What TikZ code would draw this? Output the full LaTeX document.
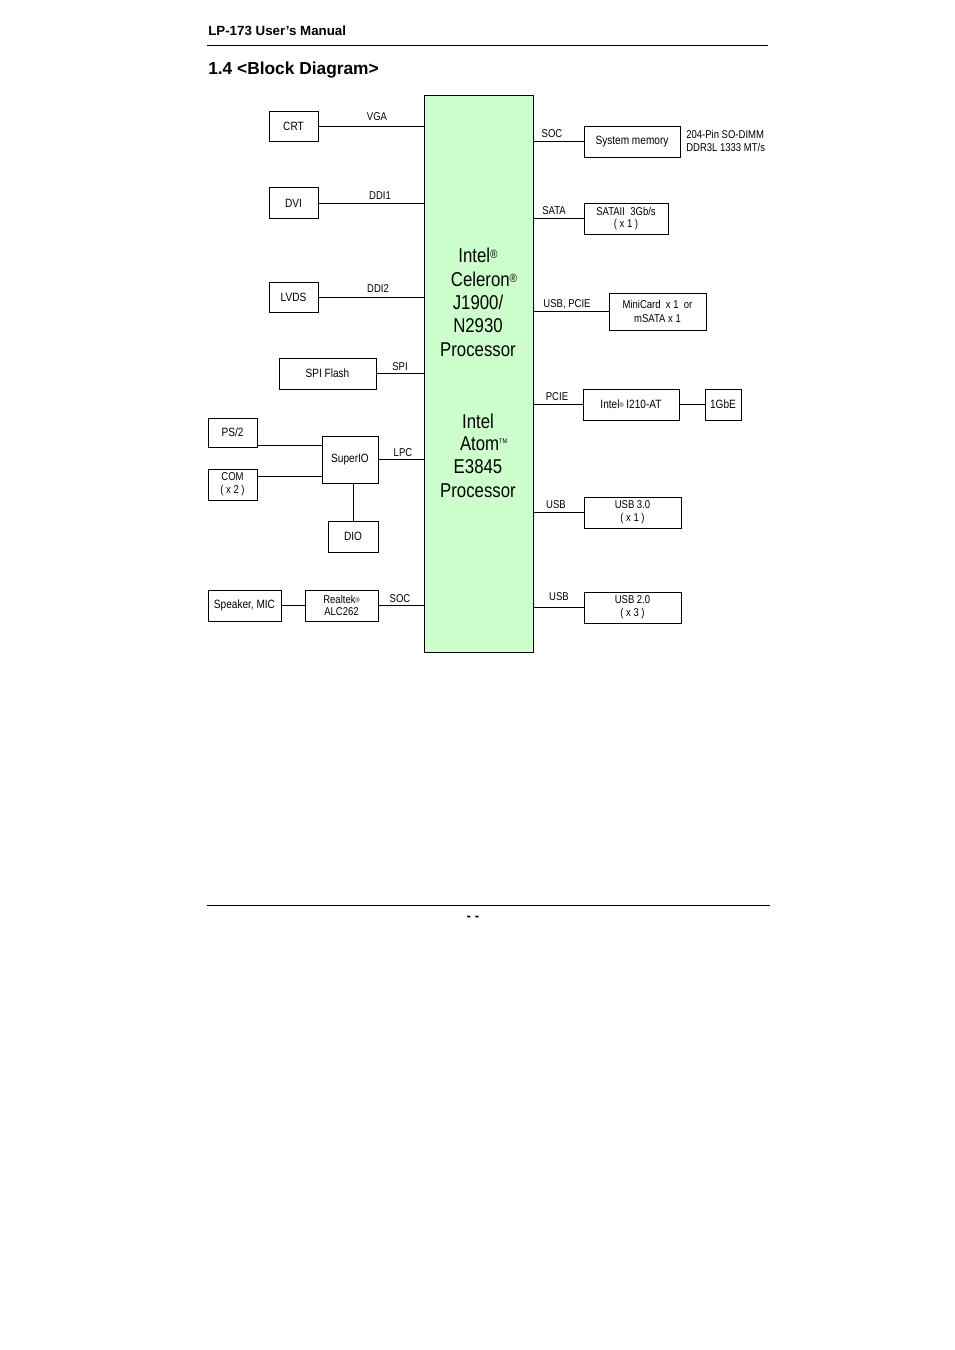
\documentclass[tikz,border=0pt]{standalone}
\usepackage{fontspec}
\setmainfont{Liberation Sans}
\newfontfamily\narrowf{Liberation Sans}[FakeStretch=0.84]
\begin{document}
\begin{tikzpicture}[x=0.75pt,y=-0.75pt,
  bx/.style={draw,line width=0.6pt,inner sep=0pt,align=center,font=\narrowf\fontsize{9}{10.5}\selectfont},
  lb/.style={font=\narrowf\fontsize{8.5}{10}\selectfont,inner sep=0pt},
  ln/.style={line width=0.5pt},
  cpu/.style={font=\narrowf\fontsize{15}{17}\selectfont,inner sep=0pt}]
\useasboundingbox[fill=white] (0,0) rectangle (954,1350);
\node[anchor=west,inner sep=0pt,font=\bfseries\fontsize{10}{12}\selectfont] (hdr) at (208,31) {LP-173 User’s Manual};
\draw[line width=0.6pt] (207,45) -- (768,45);
\node[anchor=west,inner sep=0pt,font=\bfseries\fontsize{13}{15}\selectfont] (ttl) at (208,70) {1.4 <Block Diagram>};
\draw[line width=0.6pt] (207,905) -- (770,905);
\node[font=\bfseries\fontsize{10}{12}\selectfont] (pg) at (473,918) {- -};
% CPU
\draw[fill={rgb,255:red,204;green,255;blue,204},line width=0.7pt] (424,95) rectangle (533,652);
\coordinate (cpuL) at (424,0); \coordinate (cpuR) at (533,0);
\node[cpu] at (478,255) {Intel\raisebox{0.3ex}{\small®}};
\node[cpu] at (484,279) {Celeron\raisebox{0.3ex}{\small®}};
\node[cpu] at (478,302) {J1900/};
\node[cpu] at (478,326) {N2930};
\node[cpu] at (478,350) {Processor};
\node[cpu] at (478,421) {Intel};
\node[cpu] at (484,444) {Atom\textsuperscript{\tiny TM}};
\node[cpu] at (478,467) {E3845};
\node[cpu] at (478,491) {Processor};
% left boxes
\node[bx,minimum width=49*0.75pt,minimum height=30*0.75pt] (crt) at (293.5,126) {CRT};
\node[bx,minimum width=49*0.75pt,minimum height=31*0.75pt] (dvi) at (293.5,203) {DVI};
\node[bx,minimum width=49*0.75pt,minimum height=30*0.75pt] (lvds) at (293.5,297) {LVDS};
\node[bx,minimum width=97*0.75pt,minimum height=31*0.75pt] (spi) at (327.5,373.5) {SPI Flash};
\node[bx,minimum width=49*0.75pt,minimum height=29*0.75pt] (ps2) at (232.5,432.5) {PS/2};
\node[bx,minimum width=49*0.75pt,minimum height=31*0.75pt,font=\narrowf\fontsize{8.5}{9.5}\selectfont] (com) at (232.5,484.5) {COM\\( x 2 )};
\node[bx,minimum width=56*0.75pt,minimum height=47*0.75pt] (sio) at (350,459.5) {SuperIO};
\node[bx,minimum width=50*0.75pt,minimum height=31*0.75pt] (dio) at (353,536.5) {DIO};
\node[bx,minimum width=73*0.75pt,minimum height=31*0.75pt] (spk) at (244.5,605.5) {Speaker, MIC};
\node[bx,minimum width=73*0.75pt,minimum height=31*0.75pt,font=\narrowf\fontsize{8.5}{9.5}\selectfont] (rtk) at (341.5,605.5) {Realtek\raisebox{0.2ex}{\tiny®}\\ALC262};
\draw[ln] (crt.east) -- (crt.east -| cpuL);
\draw[ln] (dvi.east) -- (dvi.east -| cpuL);
\draw[ln] (lvds.east) -- (lvds.east -| cpuL);
\draw[ln] (spi.east) -- (spi.east -| cpuL);
\draw[ln] (ps2.east |- 0,445) -- (sio.west |- 0,445);
\draw[ln] (com.east |- 0,476) -- (sio.west |- 0,476);
\draw[ln] (sio.east) -- (sio.east -| cpuL);
\draw[ln] (sio.south -| dio.north) -- (dio.north);
\draw[ln] (spk.east) -- (rtk.west);
\draw[ln] (rtk.east) -- (rtk.east -| cpuL);
\node[lb] at (377,117) {VGA};
\node[lb] at (380,196) {DDI1};
\node[lb] at (378,289) {DDI2};
\node[lb] at (400,367) {SPI};
\node[lb] at (403,453) {LPC};
\node[lb] at (400,599) {SOC};
% right
\node[bx,minimum width=96*0.75pt,minimum height=31*0.75pt] (mem) at (632,141.5) {System memory};
\node[anchor=west,lb,align=left] (memt) at (686,141) {204-Pin SO-DIMM\\DDR3L 1333 MT/s};
\node[bx,minimum width=84*0.75pt,minimum height=31*0.75pt,font=\narrowf\fontsize{8.5}{9.5}\selectfont] (sata) at (626,218.5) {SATAII\ \ 3Gb/s\\( x 1 )};
\node[bx,minimum width=97*0.75pt,minimum height=37*0.75pt,font=\narrowf\fontsize{8.5}{10}\selectfont] (mini) at (657.5,311.5) {MiniCard\ \ x 1\ \ or\\mSATA x 1};
\node[bx,minimum width=96*0.75pt,minimum height=31*0.75pt] (lan) at (631,404.5) {Intel\raisebox{0.2ex}{\tiny®} I210-AT};
\node[bx,minimum width=36*0.75pt,minimum height=31*0.75pt] (gbe) at (723,404.5) {1GbE};
\node[bx,minimum width=97*0.75pt,minimum height=31*0.75pt,font=\narrowf\fontsize{8.5}{9.5}\selectfont] (u3) at (632.5,512.5) {USB 3.0\\( x 1 )};
\node[bx,minimum width=97*0.75pt,minimum height=31*0.75pt,font=\narrowf\fontsize{8.5}{9.5}\selectfont] (u2) at (632.5,607.5) {USB 2.0\\( x 3 )};
\draw[ln] (mem.west) -- (mem.west -| cpuR);
\draw[ln] (sata.west) -- (sata.west -| cpuR);
\draw[ln] (mini.west) -- (mini.west -| cpuR);
\draw[ln] (lan.west) -- (lan.west -| cpuR);
\draw[ln] (lan.east) -- (gbe.west);
\draw[ln] (u3.west) -- (u3.west -| cpuR);
\draw[ln] (u2.west) -- (u2.west -| cpuR);
\node[lb] at (552,134) {SOC};
\node[lb] at (554,211) {SATA};
\node[lb] at (567,304) {USB, PCIE};
\node[lb] at (557,397) {PCIE};
\node[lb] at (556,505) {USB};
\node[lb] at (559,597) {USB};
\end{tikzpicture}
\end{document}
